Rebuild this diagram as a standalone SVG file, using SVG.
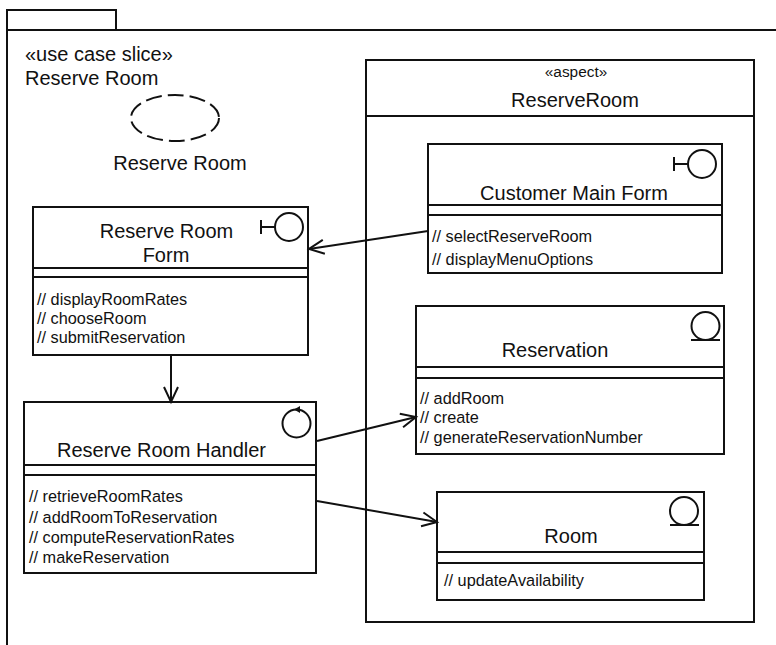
<svg xmlns="http://www.w3.org/2000/svg" width="776" height="645" viewBox="0 0 776 645">
<style>
.b{fill:#fff;stroke:#111;stroke-width:2}
.l{fill:none;stroke:#111;stroke-width:2}
.c{fill:none;stroke:#111;stroke-width:2}
text{font-family:"Liberation Sans",Arial,sans-serif;fill:#111}
.n{font-size:20px;text-anchor:middle}
.o{font-size:16.3px}
.p{font-size:20px}
</style>
<defs>
<marker id="a" markerUnits="userSpaceOnUse" markerWidth="20" markerHeight="20" refX="17" refY="8" orient="auto" viewBox="0 0 20 16"><path d="M2 1 L17 8 L2 15" fill="none" stroke="#111" stroke-width="2"/></marker>
</defs>
<rect width="776" height="645" fill="#fff"/>
<g id="package">
<path class="l" d="M7 30V10H116V30"/>
<path class="l" d="M776 30H7V645"/>
<text class="p" x="25" y="61">«use case slice»</text>
<text class="p" x="25" y="85">Reserve Room</text>
</g>
<g id="use-case">
<ellipse class="l" cx="175" cy="118" rx="44" ry="23" stroke-dasharray="16 6"/>
<text class="p" x="180" y="170" text-anchor="middle">Reserve Room</text>
</g>
<g id="aspect">
<rect class="b" x="366" y="60" width="388" height="562"/>
<path class="l" d="M366 116H754"/>
<text x="576" y="77" font-size="15.4" text-anchor="middle">«aspect»</text>
<text class="n" x="575" y="107">ReserveRoom</text>
</g>
<g id="customer-main-form">
<rect class="b" x="428" y="144" width="294" height="129"/>
<path class="l" d="M428 205H722M428 215H722"/>
<circle class="l" cx="702" cy="164" r="14"/>
<path class="l" d="M688 164H674M674 157V171"/>
<text class="n" x="574" y="200">Customer Main Form</text>
<text class="o" x="432" y="242">// selectReserveRoom</text>
<text class="o" x="432" y="265">// displayMenuOptions</text>
</g>
<g id="reserve-room-form">
<rect class="b" x="33" y="207" width="275" height="148"/>
<path class="l" d="M33 268H308M33 277H308"/>
<circle class="l" cx="289" cy="227" r="14"/>
<path class="l" d="M275 227H261M261 220V234"/>
<text class="n" x="166.500" y="238">Reserve Room</text>
<text class="n" x="166" y="262">Form</text>
<text class="o" x="37" y="305">// displayRoomRates</text>
<text class="o" x="37" y="324">// chooseRoom</text>
<text class="o" x="37" y="343">// submitReservation</text>
</g>
<g id="reservation">
<rect class="b" x="416" y="306" width="308" height="148"/>
<path class="l" d="M416 367H724M416 378H724"/>
<circle class="l" cx="705.500" cy="326" r="14"/>
<path class="l" d="M691 340H720"/>
<text class="n" x="555" y="357">Reservation</text>
<text class="o" x="420" y="404">// addRoom</text>
<text class="o" x="420" y="423">// create</text>
<text class="o" x="420" y="443">// generateReservationNumber</text>
</g>
<g id="reserve-room-handler">
<rect class="b" x="24" y="402" width="292" height="171"/>
<path class="l" d="M24 465H316M24 475H316"/>
<circle class="l" cx="296.500" cy="423.500" r="14"/>
<path d="M294 409.500L300 406V413Z" fill="#111"/>
<text class="n" x="161.500" y="457">Reserve Room Handler</text>
<text class="o" x="29" y="502">// retrieveRoomRates</text>
<text class="o" x="29" y="523">// addRoomToReservation</text>
<text class="o" x="29" y="543">// computeReservationRates</text>
<text class="o" x="29" y="563">// makeReservation</text>
</g>
<g id="room">
<rect class="b" x="437" y="492" width="267" height="108"/>
<path class="l" d="M437 552H704M437 563H704"/>
<circle class="l" cx="684" cy="511" r="14"/>
<path class="l" d="M670 525H699"/>
<text class="n" x="571" y="543">Room</text>
<text class="o" x="444" y="586">// updateAvailability</text>
</g>
<g id="connectors">
<path class="c" marker-end="url(#a)" d="M428 231L309 249"/>
<path class="c" marker-end="url(#a)" d="M171 355V402"/>
<path class="c" marker-end="url(#a)" d="M317 441L416 417"/>
<path class="c" marker-end="url(#a)" d="M317 501L437 522"/>
</g>
</svg>
